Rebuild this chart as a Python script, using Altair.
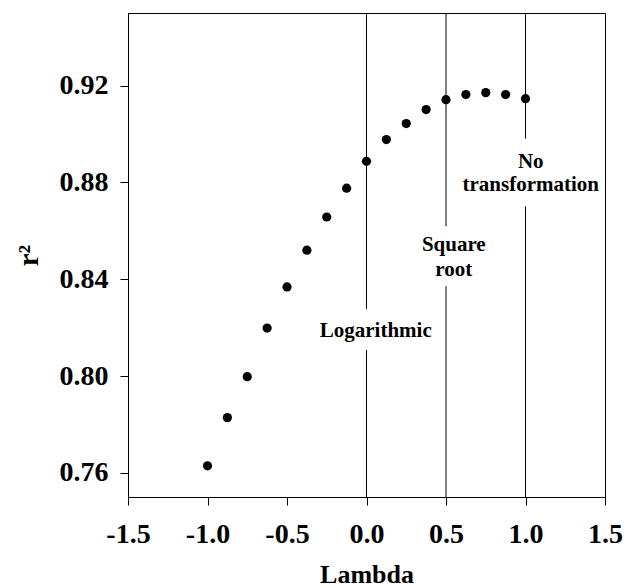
import altair as alt
import pandas as pd

# Data
lam = [-1.0, -0.875, -0.75, -0.625, -0.5, -0.375, -0.25, -0.125, 0.0,
       0.125, 0.25, 0.375, 0.5, 0.625, 0.75, 0.875, 1.0]
r2 = [0.7629, 0.7828, 0.7997, 0.8198, 0.8368, 0.8520, 0.8657, 0.8776, 0.8887,
      0.8977, 0.9043, 0.9101, 0.9142, 0.9163, 0.9171, 0.9163, 0.9146]

# vertical reference lines (broken where labels sit)
rule_x = [0.0, 0.0, 0.5, 0.5, 1.0, 1.0]
rule_y1 = [0.75, 0.8276, 0.75, 0.8619, 0.75, 0.8981]
rule_y2 = [0.8107, 0.95, 0.8371, 0.95, 0.8701, 0.95]

# annotation labels
lab_text = ["Logarithmic", "Square", "root", "No", "transformation"]
lab_x = [0.058, 0.549, 0.549, 1.033, 1.033]
lab_y = [0.8186, 0.8540, 0.8437, 0.8886, 0.8788]

x_ticks = [-1.5, -1.0, -0.5, 0.0, 0.5, 1.0, 1.5]
y_ticks = [0.76, 0.80, 0.84, 0.88, 0.92]

FONT = "Liberation Serif"

pts = pd.DataFrame({"lam": lam, "r2": r2})
rules = pd.DataFrame({"x": rule_x, "y1": rule_y1, "y2": rule_y2})
labs = pd.DataFrame({"t": lab_text, "x": lab_x, "y": lab_y})

xscale = alt.Scale(domain=[-1.5, 1.5], nice=False, zero=False)
yscale = alt.Scale(domain=[0.75, 0.95], nice=False, zero=False)

xaxis = alt.Axis(
    values=x_ticks, title="Lambda", grid=False,
    labelExpr="datum.value < 0 ? '-' + format(-datum.value, '.1f') : format(datum.value, '.1f')",
    labelFont=FONT, labelFontSize=28, labelFontWeight="bold", labelColor="black",
    titleFont=FONT, titleFontSize=26, titleFontWeight="bold", titleColor="black",
    tickSize=8, tickColor="black", domainColor="black", labelPadding=15, titlePadding=13,
    labelFlush=False,
)
yaxis = alt.Axis(
    values=y_ticks, title="r²", format=".2f", grid=False,
    labelFont=FONT, labelFontSize=28, labelFontWeight="bold", labelColor="black",
    titleFont=FONT, titleFontSize=29, titleFontWeight="bold", titleColor="black",
    tickSize=8, tickColor="black", domainColor="black", labelPadding=12, titlePadding=16,
    labelFlush=False,
)

points = alt.Chart(pts).mark_point(filled=True, color="black", size=85, opacity=1).encode(
    x=alt.X("lam:Q", scale=xscale, axis=xaxis),
    y=alt.Y("r2:Q", scale=yscale, axis=yaxis),
)

lines = alt.Chart(rules).mark_rule(color="black", strokeWidth=1).encode(
    x=alt.X("x:Q", scale=xscale),
    y=alt.Y("y1:Q", scale=yscale),
    y2="y2:Q",
)

texts = alt.Chart(labs).mark_text(
    font=FONT, fontSize=21, fontWeight="bold", color="black",
    align="center", baseline="middle",
).encode(
    x=alt.X("x:Q", scale=xscale),
    y=alt.Y("y:Q", scale=yscale),
    text="t:N",
)

chart = alt.layer(lines, points, texts).properties(
    width=477, height=484,
    autosize=alt.AutoSizeParams(type="none"),
    padding={"left": 120, "top": 5, "right": 20, "bottom": 96},
).configure_view(stroke="black", strokeWidth=1)

chart.save("out.html", embed_options={"renderer": "svg", "actions": False})
